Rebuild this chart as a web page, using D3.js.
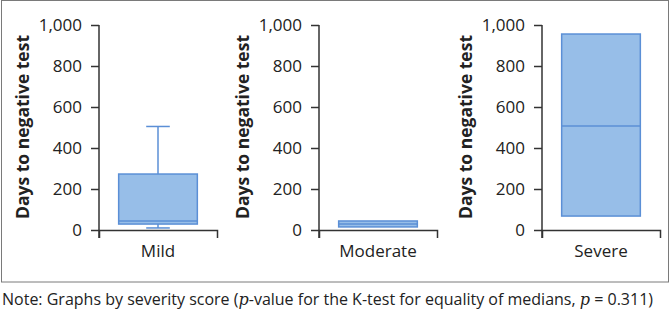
<!DOCTYPE html>
<html>
<head>
<meta charset="utf-8">
<script src="https://cdn.jsdelivr.net/npm/d3@7"></script>
<style>
  body { margin: 0; background: #fff; }
  text { font-family: "Open Sans", sans-serif; fill: #222; }
</style>
</head>
<body>
<script>
// Data
var categories = ["Mild", "Moderate", "Severe"];
var lowerWhisker = [10, 15, 68];
var q1 = [29, 15, 68];
var median = [44, 29, 507];
var q3 = [273, 44, 956];
var upperWhisker = [505, 44, 956];
var yTicks = [0, 200, 400, 600, 800, 1000];
var yTitle = "Days to negative test";

var W = 670, H = 313;
var svg = d3.select("body").append("svg")
    .attr("width", W)
    .attr("height", H);

// outer frame
svg.append("rect")
    .attr("x", 1.5).attr("y", 0.5)
    .attr("width", 667).attr("height", 281.5)
    .attr("fill", "none")
    .attr("stroke", "#7a7a7a");

// panel layout
var panelLeft = [99, 319, 542],
    plotW = 118,
    plotTop = 25, plotBottom = 230;

var y = d3.scaleLinear().domain([0, 1000]).range([plotBottom, plotTop]);

categories.forEach(function(cat, i) {
    var g = svg.append("g")
        .attr("transform", `translate(${panelLeft[i]},0)`);

    var x = d3.scaleBand().domain([cat]).range([0, plotW]).padding(0.2);
    var bw = x.bandwidth(),
        x0 = x(cat),
        cx = x0 + bw / 2,
        cap = bw * 0.3;

    // whiskers
    g.append("line")
        .attr("x1", cx).attr("x2", cx)
        .attr("y1", y(upperWhisker[i])).attr("y2", y(q3[i]))
        .attr("stroke", "#5b8fd6").attr("stroke-width", 1.5);
    g.append("line")
        .attr("x1", cx).attr("x2", cx)
        .attr("y1", y(lowerWhisker[i])).attr("y2", y(q1[i]))
        .attr("stroke", "#5b8fd6").attr("stroke-width", 1.5);
    if (upperWhisker[i] > q3[i] || lowerWhisker[i] < q1[i]) {
        [upperWhisker[i], lowerWhisker[i]].forEach(function(v) {
            g.append("line")
                .attr("x1", cx - cap / 2).attr("x2", cx + cap / 2)
                .attr("y1", y(v)).attr("y2", y(v))
                .attr("stroke", "#5b8fd6").attr("stroke-width", 1.5);
        });
    }

    // box
    g.append("rect")
        .attr("x", x0)
        .attr("y", y(q3[i]))
        .attr("width", bw)
        .attr("height", y(q1[i]) - y(q3[i]))
        .attr("fill", "#97bee8")
        .attr("stroke", "#5b8fd6")
        .attr("stroke-width", 1.5);

    // median
    g.append("line")
        .attr("x1", x0).attr("x2", x0 + bw)
        .attr("y1", y(median[i])).attr("y2", y(median[i]))
        .attr("stroke", "#5b8fd6").attr("stroke-width", 1.5);

    // y axis
    var ya = g.append("g")
        .call(d3.axisLeft(y).tickValues(yTicks)
            .tickFormat(d3.format(","))
            .tickSize(8).tickSizeOuter(0).tickPadding(9));
    ya.select(".domain").attr("stroke", "#333").attr("stroke-width", 1.5)
        .attr("d", `M0,${plotTop}V${plotBottom + 8}`);
    ya.selectAll(".tick line").attr("stroke", "#333").attr("stroke-width", 1.5);
    ya.selectAll(".tick text")
        .style("font-size", "17px")
        .style("font-family", "'Open Sans', sans-serif")
        .attr("fill", "#222");

    // x axis
    var xa = g.append("g")
        .attr("transform", `translate(0,${plotBottom})`)
        .call(d3.axisBottom(x).tickSize(0).tickSizeOuter(8).tickPadding(15));
    xa.select(".domain").attr("stroke", "#333").attr("stroke-width", 1.5);
    xa.selectAll(".tick text")
        .style("font-size", "17px")
        .style("font-family", "'Open Sans', sans-serif")
        .attr("fill", "#222");

    // y title
    g.append("text")
        .attr("transform", `translate(${-70},127) rotate(-90)`)
        .attr("text-anchor", "middle")
        .style("font-size", "17.5px")
        .style("font-weight", "bold")
        .text(yTitle);
});

// note
var note = svg.append("text")
    .attr("x", 2)
    .attr("y", 305)
    .style("font-size", "16px");
note.append("tspan").text("Note: Graphs by severity score (");
note.append("tspan").style("font-style", "italic").style("font-family", "'DejaVu Serif', serif").text("p");
note.append("tspan").text("-value for the K-test for equality of medians, ");
note.append("tspan").style("font-style", "italic").style("font-family", "'DejaVu Serif', serif").text("p");
note.append("tspan").text(" = 0.311)");
</script>
</body>
</html>
